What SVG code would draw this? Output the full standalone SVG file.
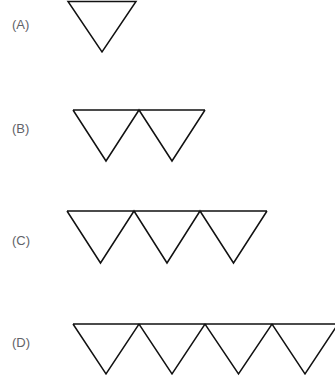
<svg xmlns="http://www.w3.org/2000/svg" width="335" height="383" viewBox="0 0 335 383">
<style>
.lbl{font-family:"Liberation Sans",Arial,sans-serif;font-size:13px;fill:#5f6368}
.tri{fill:none;stroke:#111111;stroke-width:1.5;stroke-linejoin:miter}
</style>
<rect width="335" height="383" fill="#ffffff"/>
<g id="A">
<text class="lbl" x="12" y="29">(A)</text>
<path class="tri" d="M68,1.5 H136 L102,52 Z"/>
</g>
<g id="B">
<text class="lbl" x="12" y="133">(B)</text>
<path class="tri" d="M73,110 H205 M73,110 L106,161 L139,110 L172,161 L205,110"/>
</g>
<g id="C">
<text class="lbl" x="12" y="245">(C)</text>
<path class="tri" d="M67,211 H267 M67,211 L100.5,263 L134,211 L167,263 L200,211 L233.5,263 L267,211"/>
</g>
<g id="D">
<text class="lbl" x="12" y="347">(D)</text>
<path class="tri" d="M73,324 H340 M73,324 L106,374 L139,324 L172,374 L205,324 L238.5,374 L272,324 L305,374 L338,324"/>
</g>
</svg>
